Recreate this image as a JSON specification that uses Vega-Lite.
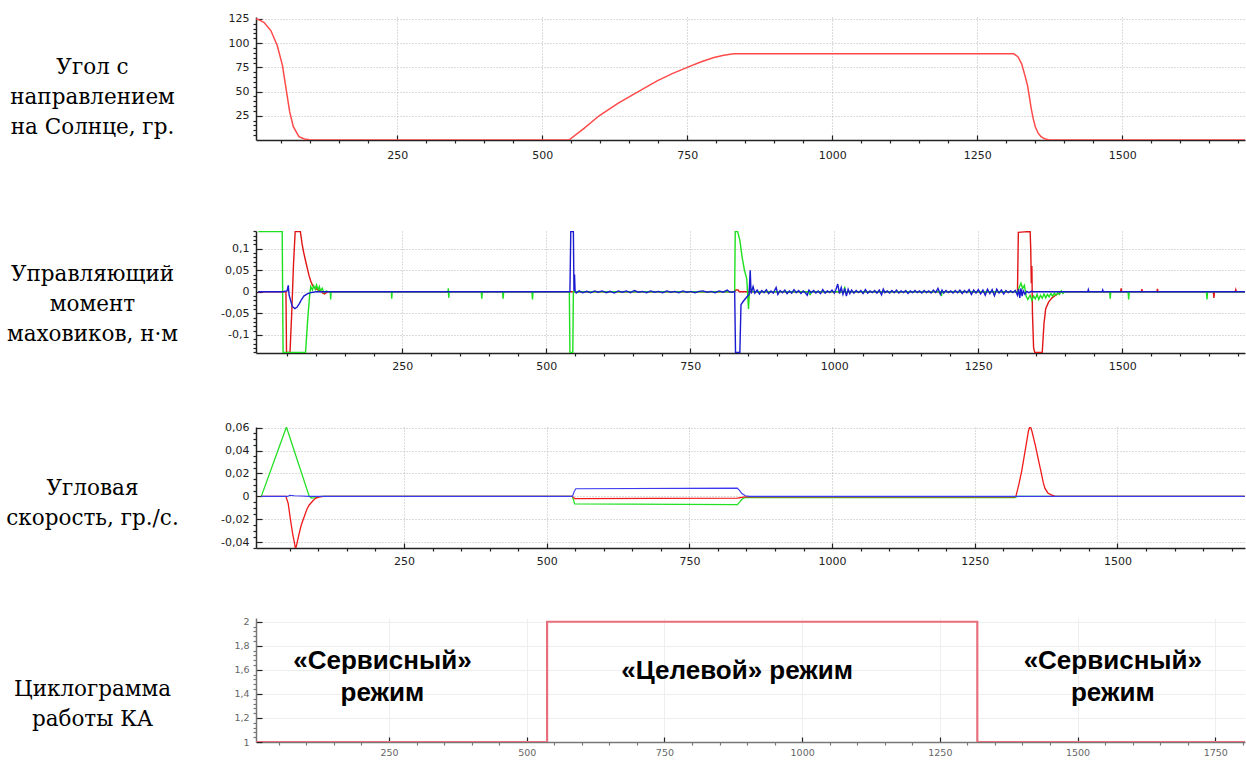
{
  "$schema": "https://vega.github.io/schema/vega-lite/v6.json",
  "background": "white",
  "padding": {"left": 5, "top": 12, "right": 0, "bottom": 0},
  "spacing": 50,
  "config": {
    "view": {"stroke": null},
    "axis": {
      "labelFont": "DejaVu Sans", "labelFontSize": 11, "labelColor": "#222222",
      "domainColor": "#222222", "domainWidth": 1.5, "tickColor": "#222222", "tickWidth": 1.2,
      "gridColor": "#b8b8b8", "gridDash": [1, 2], "gridWidth": 1,
      "titleFont": "DejaVu Serif", "titleFontSize": 21.5, "titleFontWeight": "normal", "titleColor": "#000000",
      "labelFlush": false, "labelOverlap": false
    },
    "axisX": {"tickSize": -5, "labelPadding": 12, "format": "d"},
    "axisY": {"tickSize": -6, "labelPadding": 13, "titleAngle": 0, "titleAlign": "center", "titleBaseline": "middle", "titleX": -164, "titleLineHeight": 30}
  },
  "datasets": {
    "angle": [
      {"t":0,"v":125.5},{"t":10,"v":124.5},{"t":20,"v":121.6},{"t":32,"v":113},{"t":43,"v":97.5},{"t":52,"v":77},{"t":59,"v":50},{"t":64.5,"v":29},{"t":70.7,"v":13.7},{"t":80.5,"v":3.4},{"t":90,"v":1},{"t":98,"v":0.3},{"t":110,"v":0},{"t":546,"v":0},{"t":572,"v":12},{"t":598,"v":25},{"t":631,"v":38},{"t":664,"v":49.5},{"t":698,"v":61},{"t":724,"v":68.5},{"t":750,"v":75},{"t":773,"v":80.5},{"t":796,"v":85.2},{"t":813,"v":87.5},{"t":830,"v":89},{"t":1313,"v":89},{"t":1320,"v":86},{"t":1326.5,"v":78.7},{"t":1332,"v":67},{"t":1336.6,"v":56.4},{"t":1340,"v":44},{"t":1343,"v":32.5},{"t":1346.5,"v":22},{"t":1350,"v":13.7},{"t":1355,"v":7},{"t":1360,"v":3.4},{"t":1366,"v":1.2},{"t":1373,"v":0.3},{"t":1380,"v":0},{"t":1717,"v":0}
    ],
    "torque": [
      {"s":"r","t":0,"v":0},{"s":"r","t":48,"v":0},{"s":"r","t":49,"v":-0.141},{"s":"r","t":55,"v":-0.141},{"s":"r","t":58,"v":-0.05},{"s":"r","t":61,"v":0.06},{"s":"r","t":64,"v":0.14},{"s":"r","t":73,"v":0.14},{"s":"r","t":76,"v":0.111},{"s":"r","t":79,"v":0.09},{"s":"r","t":82,"v":0.072},{"s":"r","t":85,"v":0.055},{"s":"r","t":88,"v":0.038},{"s":"r","t":91,"v":0.025},{"s":"r","t":94,"v":0.015},{"s":"r","t":99,"v":0.008},{"s":"r","t":104,"v":0.004},{"s":"r","t":108,"v":0.003},{"s":"r","t":112,"v":-0.003},{"s":"r","t":115,"v":-0.005},{"s":"r","t":118,"v":-0.002},{"s":"r","t":121,"v":0},{"s":"r","t":827,"v":0},{"s":"r","t":829,"v":0.004},{"s":"r","t":833,"v":0.004},{"s":"r","t":835,"v":0},{"s":"r","t":1318,"v":0},{"s":"r","t":1319.5,"v":0.138},{"s":"r","t":1330,"v":0.139},{"s":"r","t":1340,"v":0.14},{"s":"r","t":1341,"v":0.1},{"s":"r","t":1342,"v":0.02},{"s":"r","t":1343,"v":0.06},{"s":"r","t":1344,"v":-0.05},{"s":"r","t":1346,"v":-0.13},{"s":"r","t":1348,"v":-0.141},{"s":"r","t":1361,"v":-0.141},{"s":"r","t":1364,"v":-0.074},{"s":"r","t":1367,"v":-0.039},{"s":"r","t":1372,"v":-0.024},{"s":"r","t":1378,"v":-0.014},{"s":"r","t":1384,"v":-0.008},{"s":"r","t":1390,"v":-0.003},{"s":"r","t":1395,"v":0},{"s":"r","t":1497,"v":0},{"s":"r","t":1498,"v":0.008},{"s":"r","t":1499,"v":0},{"s":"r","t":1533,"v":0},{"s":"r","t":1534,"v":0.006},{"s":"r","t":1535,"v":0},{"s":"r","t":1560,"v":0},{"s":"r","t":1561,"v":0.007},{"s":"r","t":1562,"v":0},{"s":"r","t":1658,"v":0},{"s":"r","t":1659,"v":-0.014},{"s":"r","t":1660,"v":0},{"s":"r","t":1696,"v":0},{"s":"r","t":1697,"v":0.005},{"s":"r","t":1698,"v":0},{"s":"r","t":1713,"v":0},
      {"s":"g","t":0,"v":0.14},{"s":"g","t":41.5,"v":0.14},{"s":"g","t":43,"v":-0.141},{"s":"g","t":82,"v":-0.141},{"s":"g","t":86,"v":-0.06},{"s":"g","t":89,"v":-0.01},{"s":"g","t":91,"v":0.012},{"s":"g","t":94,"v":0.004},{"s":"g","t":96,"v":0.014},{"s":"g","t":99,"v":0.006},{"s":"g","t":101,"v":0.016},{"s":"g","t":104,"v":0.004},{"s":"g","t":106,"v":0.012},{"s":"g","t":108,"v":0.002},{"s":"g","t":111,"v":0.008},{"s":"g","t":114,"v":-0.002},{"s":"g","t":118,"v":0.002},{"s":"g","t":122,"v":0},{"s":"g","t":125,"v":0},{"s":"g","t":125.6,"v":-0.018},{"s":"g","t":126.5,"v":0},{"s":"g","t":231,"v":0},{"s":"g","t":231.6,"v":-0.016},{"s":"g","t":232.5,"v":0},{"s":"g","t":329,"v":0},{"s":"g","t":330,"v":0.008},{"s":"g","t":330.5,"v":-0.014},{"s":"g","t":331.5,"v":0},{"s":"g","t":387,"v":0},{"s":"g","t":388,"v":-0.016},{"s":"g","t":389,"v":0},{"s":"g","t":424,"v":0},{"s":"g","t":425,"v":-0.016},{"s":"g","t":426,"v":0},{"s":"g","t":475,"v":0},{"s":"g","t":476,"v":-0.018},{"s":"g","t":477,"v":0},{"s":"g","t":540,"v":0},{"s":"g","t":541,"v":-0.141},{"s":"g","t":546,"v":-0.141},{"s":"g","t":547,"v":0},{"s":"g","t":827,"v":0},{"s":"g","t":828,"v":0.14},{"s":"g","t":832,"v":0.14},{"s":"g","t":836,"v":0.12},{"s":"g","t":840,"v":0.08},{"s":"g","t":844,"v":0.05},{"s":"g","t":848,"v":0.03},{"s":"g","t":851,"v":-0.04},{"s":"g","t":853,"v":0.01},{"s":"g","t":856,"v":0.002},{"s":"g","t":860,"v":0},{"s":"g","t":957,"v":0},{"s":"g","t":958,"v":-0.008},{"s":"g","t":959,"v":0},{"s":"g","t":1017,"v":0},{"s":"g","t":1018,"v":0.012},{"s":"g","t":1019,"v":0},{"s":"g","t":1185,"v":0},{"s":"g","t":1186,"v":-0.01},{"s":"g","t":1187,"v":0},{"s":"g","t":1318,"v":0},{"s":"g","t":1321,"v":0.01},{"s":"g","t":1324,"v":0.02},{"s":"g","t":1327,"v":0.008},{"s":"g","t":1330,"v":0.015},{"s":"g","t":1333,"v":-0.01},{"s":"g","t":1336,"v":-0.018},{"s":"g","t":1340,"v":-0.008},{"s":"g","t":1343,"v":-0.02},{"s":"g","t":1346,"v":-0.01},{"s":"g","t":1349,"v":-0.016},{"s":"g","t":1352,"v":-0.006},{"s":"g","t":1355,"v":-0.018},{"s":"g","t":1358,"v":-0.008},{"s":"g","t":1361,"v":-0.015},{"s":"g","t":1364,"v":-0.005},{"s":"g","t":1367,"v":-0.014},{"s":"g","t":1370,"v":-0.006},{"s":"g","t":1373,"v":-0.012},{"s":"g","t":1376,"v":-0.004},{"s":"g","t":1379,"v":-0.01},{"s":"g","t":1382,"v":-0.003},{"s":"g","t":1385,"v":-0.008},{"s":"g","t":1388,"v":-0.002},{"s":"g","t":1391,"v":-0.006},{"s":"g","t":1394,"v":0.002},{"s":"g","t":1397,"v":-0.004},{"s":"g","t":1400,"v":0},{"s":"g","t":1478,"v":0},{"s":"g","t":1479,"v":-0.016},{"s":"g","t":1480,"v":0},{"s":"g","t":1510,"v":0},{"s":"g","t":1511,"v":-0.018},{"s":"g","t":1512,"v":0},{"s":"g","t":1646,"v":0},{"s":"g","t":1647,"v":-0.018},{"s":"g","t":1648,"v":0},{"s":"g","t":1713,"v":0},
      {"s":"b","t":0,"v":0},{"s":"b","t":42,"v":0},{"s":"b","t":50,"v":0.002},{"s":"b","t":52,"v":0.015},{"s":"b","t":53.5,"v":-0.008},{"s":"b","t":56,"v":-0.02},{"s":"b","t":59,"v":-0.034},{"s":"b","t":63.5,"v":-0.039},{"s":"b","t":67,"v":-0.036},{"s":"b","t":71,"v":-0.028},{"s":"b","t":75,"v":-0.018},{"s":"b","t":79,"v":-0.01},{"s":"b","t":85,"v":-0.005},{"s":"b","t":91,"v":-0.002},{"s":"b","t":100,"v":0},{"s":"b","t":541,"v":0},{"s":"b","t":542.5,"v":0.14},{"s":"b","t":547,"v":0.14},{"s":"b","t":548,"v":0.002},{"s":"b","t":549,"v":0.04},{"s":"b","t":550,"v":0.001},{"s":"b","t":552,"v":-0.003},{"s":"b","t":557,"v":0.002},{"s":"b","t":563,"v":-0.002},{"s":"b","t":570,"v":0.001},{"s":"b","t":577,"v":-0.002},{"s":"b","t":584,"v":0.002},{"s":"b","t":590,"v":-0.001},{"s":"b","t":597,"v":0.002},{"s":"b","t":604,"v":-0.002},{"s":"b","t":611,"v":0.001},{"s":"b","t":618,"v":-0.003},{"s":"b","t":625,"v":0.002},{"s":"b","t":632,"v":-0.001},{"s":"b","t":639,"v":0.002},{"s":"b","t":646,"v":-0.002},{"s":"b","t":653,"v":0.003},{"s":"b","t":660,"v":-0.001},{"s":"b","t":667,"v":0.001},{"s":"b","t":674,"v":-0.002},{"s":"b","t":681,"v":0.002},{"s":"b","t":688,"v":-0.001},{"s":"b","t":695,"v":0.001},{"s":"b","t":702,"v":-0.002},{"s":"b","t":709,"v":0.002},{"s":"b","t":716,"v":-0.001},{"s":"b","t":723,"v":0.001},{"s":"b","t":730,"v":-0.002},{"s":"b","t":737,"v":0.002},{"s":"b","t":744,"v":-0.001},{"s":"b","t":751,"v":0.001},{"s":"b","t":758,"v":-0.002},{"s":"b","t":765,"v":0.001},{"s":"b","t":772,"v":0.002},{"s":"b","t":779,"v":-0.001},{"s":"b","t":786,"v":0.001},{"s":"b","t":793,"v":-0.002},{"s":"b","t":800,"v":0.002},{"s":"b","t":807,"v":-0.001},{"s":"b","t":814,"v":0.004},{"s":"b","t":818,"v":0},{"s":"b","t":822,"v":-0.001},{"s":"b","t":827,"v":0.001},{"s":"b","t":828.5,"v":-0.141},{"s":"b","t":836,"v":-0.141},{"s":"b","t":838,"v":-0.03},{"s":"b","t":842,"v":-0.022},{"s":"b","t":848,"v":-0.012},{"s":"b","t":852,"v":-0.006},{"s":"b","t":854,"v":0.05},{"s":"b","t":855.5,"v":-0.004},{"s":"b","t":859,"v":0.012},{"s":"b","t":862,"v":-0.003},{"s":"b","t":866,"v":0.004},{"s":"b","t":870,"v":-0.005},{"s":"b","t":874,"v":0.003},{"s":"b","t":878,"v":-0.002},{"s":"b","t":882,"v":0.005},{"s":"b","t":886,"v":-0.004},{"s":"b","t":890,"v":0.002},{"s":"b","t":894,"v":-0.003},{"s":"b","t":899,"v":0.01},{"s":"b","t":902,"v":-0.006},{"s":"b","t":906,"v":0.003},{"s":"b","t":910,"v":-0.002},{"s":"b","t":914,"v":0.004},{"s":"b","t":918,"v":-0.004},{"s":"b","t":922,"v":0.002},{"s":"b","t":926,"v":-0.003},{"s":"b","t":930,"v":0.005},{"s":"b","t":934,"v":-0.002},{"s":"b","t":938,"v":0.003},{"s":"b","t":942,"v":-0.004},{"s":"b","t":946,"v":0.002},{"s":"b","t":950,"v":-0.003},{"s":"b","t":953,"v":-0.008},{"s":"b","t":956,"v":0.004},{"s":"b","t":960,"v":-0.002},{"s":"b","t":964,"v":0.003},{"s":"b","t":968,"v":-0.003},{"s":"b","t":972,"v":0.002},{"s":"b","t":976,"v":-0.004},{"s":"b","t":980,"v":0.005},{"s":"b","t":984,"v":-0.003},{"s":"b","t":988,"v":0.002},{"s":"b","t":992,"v":-0.002},{"s":"b","t":996,"v":0.004},{"s":"b","t":1000,"v":-0.003},{"s":"b","t":1003,"v":0.006},{"s":"b","t":1006,"v":0.018},{"s":"b","t":1009,"v":-0.004},{"s":"b","t":1012,"v":0.01},{"s":"b","t":1015,"v":-0.006},{"s":"b","t":1018,"v":0.008},{"s":"b","t":1021,"v":-0.01},{"s":"b","t":1024,"v":0.006},{"s":"b","t":1027,"v":-0.004},{"s":"b","t":1030,"v":0.004},{"s":"b","t":1034,"v":-0.003},{"s":"b","t":1038,"v":0.003},{"s":"b","t":1042,"v":-0.002},{"s":"b","t":1046,"v":0.003},{"s":"b","t":1050,"v":-0.004},{"s":"b","t":1054,"v":0.005},{"s":"b","t":1058,"v":-0.003},{"s":"b","t":1062,"v":0.002},{"s":"b","t":1066,"v":-0.002},{"s":"b","t":1070,"v":0.003},{"s":"b","t":1074,"v":-0.003},{"s":"b","t":1078,"v":0.004},{"s":"b","t":1082,"v":-0.007},{"s":"b","t":1085,"v":0.006},{"s":"b","t":1088,"v":-0.002},{"s":"b","t":1092,"v":0.002},{"s":"b","t":1096,"v":-0.003},{"s":"b","t":1100,"v":0.003},{"s":"b","t":1104,"v":-0.002},{"s":"b","t":1108,"v":0.004},{"s":"b","t":1112,"v":-0.003},{"s":"b","t":1116,"v":0.002},{"s":"b","t":1120,"v":-0.002},{"s":"b","t":1124,"v":0.003},{"s":"b","t":1128,"v":-0.004},{"s":"b","t":1132,"v":0.002},{"s":"b","t":1136,"v":-0.002},{"s":"b","t":1140,"v":0.003},{"s":"b","t":1144,"v":-0.002},{"s":"b","t":1148,"v":0.002},{"s":"b","t":1152,"v":-0.003},{"s":"b","t":1156,"v":0.003},{"s":"b","t":1160,"v":-0.002},{"s":"b","t":1164,"v":0.002},{"s":"b","t":1168,"v":-0.003},{"s":"b","t":1172,"v":0.004},{"s":"b","t":1176,"v":-0.002},{"s":"b","t":1180,"v":0.008},{"s":"b","t":1184,"v":-0.006},{"s":"b","t":1187,"v":0.004},{"s":"b","t":1190,"v":-0.003},{"s":"b","t":1194,"v":0.003},{"s":"b","t":1198,"v":-0.002},{"s":"b","t":1202,"v":0.002},{"s":"b","t":1206,"v":-0.003},{"s":"b","t":1210,"v":0.003},{"s":"b","t":1214,"v":-0.002},{"s":"b","t":1218,"v":0.004},{"s":"b","t":1222,"v":-0.004},{"s":"b","t":1226,"v":0.003},{"s":"b","t":1230,"v":-0.002},{"s":"b","t":1234,"v":0.005},{"s":"b","t":1238,"v":-0.006},{"s":"b","t":1242,"v":0.004},{"s":"b","t":1246,"v":-0.003},{"s":"b","t":1250,"v":0.005},{"s":"b","t":1254,"v":-0.005},{"s":"b","t":1258,"v":0.004},{"s":"b","t":1262,"v":-0.008},{"s":"b","t":1266,"v":0.006},{"s":"b","t":1270,"v":-0.004},{"s":"b","t":1274,"v":0.005},{"s":"b","t":1278,"v":-0.009},{"s":"b","t":1282,"v":0.006},{"s":"b","t":1286,"v":-0.003},{"s":"b","t":1290,"v":0.004},{"s":"b","t":1294,"v":-0.005},{"s":"b","t":1298,"v":0.003},{"s":"b","t":1302,"v":-0.002},{"s":"b","t":1306,"v":0.002},{"s":"b","t":1310,"v":-0.002},{"s":"b","t":1314,"v":0.003},{"s":"b","t":1318,"v":-0.008},{"s":"b","t":1320,"v":0.006},{"s":"b","t":1322,"v":-0.014},{"s":"b","t":1324,"v":0.008},{"s":"b","t":1326,"v":-0.01},{"s":"b","t":1328,"v":0.002},{"s":"b","t":1331,"v":-0.006},{"s":"b","t":1334,"v":0.001},{"s":"b","t":1338,"v":-0.002},{"s":"b","t":1342,"v":0.001},{"s":"b","t":1346,"v":0},{"s":"b","t":1440,"v":0},{"s":"b","t":1441,"v":0.005},{"s":"b","t":1442,"v":0},{"s":"b","t":1465,"v":0},{"s":"b","t":1466,"v":0.004},{"s":"b","t":1467,"v":0},{"s":"b","t":1713,"v":0}
    ],
    "rate": [
      {"s":"g","t":0,"v":0},{"s":"g","t":44,"v":0.0605},{"s":"g","t":84,"v":0},{"s":"g","t":88,"v":-0.0015},{"s":"g","t":95,"v":-0.001},{"s":"g","t":105,"v":0},{"s":"g","t":545,"v":0},{"s":"g","t":549,"v":-0.0066},{"s":"g","t":834,"v":-0.0072},{"s":"g","t":838,"v":-0.005},{"s":"g","t":842,"v":-0.0025},{"s":"g","t":848,"v":-0.001},{"s":"g","t":1320,"v":-0.001},{"s":"g","t":1325,"v":0},{"s":"g","t":1723,"v":0},
      {"s":"r","t":0,"v":0},{"s":"r","t":43,"v":0},{"s":"r","t":47,"v":-0.006},{"s":"r","t":51.5,"v":-0.0216},{"s":"r","t":55,"v":-0.033},{"s":"r","t":57.5,"v":-0.039},{"s":"r","t":60,"v":-0.046},{"s":"r","t":62,"v":-0.042},{"s":"r","t":66,"v":-0.033},{"s":"r","t":70,"v":-0.025},{"s":"r","t":75,"v":-0.018},{"s":"r","t":80,"v":-0.011},{"s":"r","t":84,"v":-0.0075},{"s":"r","t":90,"v":-0.004},{"s":"r","t":95,"v":-0.0017},{"s":"r","t":102,"v":-0.0005},{"s":"r","t":110,"v":0},{"s":"r","t":545,"v":0},{"s":"r","t":549,"v":-0.002},{"s":"r","t":834,"v":-0.0016},{"s":"r","t":842,"v":-0.0008},{"s":"r","t":848,"v":-0.0005},{"s":"r","t":1320,"v":-0.0005},{"s":"r","t":1322,"v":0},{"s":"r","t":1327,"v":0.01},{"s":"r","t":1332,"v":0.0216},{"s":"r","t":1339,"v":0.042},{"s":"r","t":1344,"v":0.057},{"s":"r","t":1347,"v":0.0615},{"s":"r","t":1350,"v":0.057},{"s":"r","t":1356,"v":0.0447},{"s":"r","t":1361,"v":0.033},{"s":"r","t":1366,"v":0.0216},{"s":"r","t":1370,"v":0.012},{"s":"r","t":1373,"v":0.007},{"s":"r","t":1378,"v":0.003},{"s":"r","t":1383,"v":0.0015},{"s":"r","t":1390,"v":0.0003},{"s":"r","t":1400,"v":0},{"s":"r","t":1723,"v":0},
      {"s":"b","t":0,"v":0},{"s":"b","t":46,"v":0},{"s":"b","t":50,"v":0.001},{"s":"b","t":58,"v":0.0005},{"s":"b","t":70,"v":0.0003},{"s":"b","t":84,"v":0},{"s":"b","t":545,"v":0},{"s":"b","t":548,"v":0.004},{"s":"b","t":551,"v":0.0067},{"s":"b","t":834,"v":0.0072},{"s":"b","t":838,"v":0.005},{"s":"b","t":842,"v":0.0025},{"s":"b","t":848,"v":0.0005},{"s":"b","t":855,"v":0},{"s":"b","t":1723,"v":0}
    ],
    "mode": [
      {"t":0,"v":1},{"t":537,"v":2},{"t":1318,"v":1},{"t":1804,"v":1}
    ],
    "notes": [
      {"t":238,"v":1.673,"label":"«Сервисный»"},
      {"t":238,"v":1.405,"label":"режим"},
      {"t":882,"v":1.59,"label":"«Целевой» режим"},
      {"t":1564,"v":1.673,"label":"«Сервисный»"},
      {"t":1564,"v":1.405,"label":"режим"}
    ]
  },
  "vconcat": [
    {
      "width": 989, "height": 123,
      "data": {"name": "angle"},
      "layer": [
        {
          "mark": {"type": "line", "color": "#ff4a4a", "strokeWidth": 1.5, "clip": true},
          "encoding": {
            "x": {"field": "t", "type": "quantitative", "scale": {"domain": [6.4, 1711.6], "nice": false, "zero": false},
                  "axis": {"values": [250, 500, 750, 1000, 1250, 1500], "labelPadding": 14, "title": " ", "titleFontSize": 10, "titlePadding": 9.5}},
            "y": {"field": "v", "type": "quantitative", "scale": {"domain": [0, 127], "nice": false},
                  "axis": {"values": [25, 50, 75, 100, 125], "format": "d", "title": ["Угол с", "направлением", "на Солнце, гр."], "titleY": 50}}
          }
        },
        {
          "mark": {"type": "line", "opacity": 0},
          "encoding": {
            "x": {"field": "t", "type": "quantitative", "scale": {"domain": [6.4, 1711.6], "nice": false, "zero": false},
                  "axis": {"orient": "bottom", "values": [50,100,150,200,300,350,400,450,550,600,650,700,800,850,900,950,1050,1100,1150,1200,1300,1350,1400,1450,1550,1600,1650,1700], "labels": false, "domain": false, "grid": false, "tickSize": 3, "title": null}},
            "y": {"field": "v", "type": "quantitative", "scale": {"domain": [0, 127], "nice": false},
                  "axis": {"orient": "left", "values": [5,10,15,20,30,35,40,45,55,60,65,70,80,85,90,95,105,110,115,120], "labels": false, "domain": false, "grid": false, "tickSize": 3, "title": null}}
          }
        }
      ],
      "resolve": {"axis": {"x": "independent", "y": "independent"}}
    },
    {
      "width": 989, "height": 122,
      "data": {"name": "torque"},
      "layer": [
        {
          "encoding": {
            "x": {"field": "t", "type": "quantitative", "scale": {"domain": [-4, 1713], "nice": false, "zero": false},
                  "axis": {"values": [250, 500, 750, 1000, 1250, 1500], "title": null}},
            "y": {"field": "v", "type": "quantitative", "scale": {"domain": [-0.142, 0.141], "nice": false},
                  "axis": {"values": [-0.1, -0.05, 0, 0.05, 0.1], "labelExpr": "replace(toString(datum.value), '.', ',')", "title": ["Управляющий", "момент", "маховиков, н·м"], "titleY": 43}}
          },
          "layer": [
            {"transform": [{"filter": "datum.s == 'r'"}], "mark": {"type": "line", "color": "#e01515", "strokeWidth": 1.4, "clip": true}},
            {"transform": [{"filter": "datum.s == 'g'"}], "mark": {"type": "line", "color": "#1ee01e", "strokeWidth": 1.4, "clip": true}},
            {"transform": [{"filter": "datum.s == 'b'"}], "mark": {"type": "line", "color": "#1a1ad0", "strokeWidth": 1.4, "clip": true}}
          ]
        },
        {
          "mark": {"type": "line", "opacity": 0},
          "encoding": {
            "x": {"field": "t", "type": "quantitative", "scale": {"domain": [-4, 1713], "nice": false, "zero": false},
                  "axis": {"orient": "bottom", "values": [50,100,150,200,300,350,400,450,550,600,650,700,800,850,900,950,1050,1100,1150,1200,1300,1350,1400,1450,1550,1600,1650,1700], "labels": false, "domain": false, "grid": false, "tickSize": 3, "title": null}},
            "y": {"field": "v", "type": "quantitative", "scale": {"domain": [-0.142, 0.141], "nice": false},
                  "axis": {"orient": "left", "values": [-0.14,-0.13,-0.12,-0.11,-0.09,-0.08,-0.07,-0.06,-0.04,-0.03,-0.02,-0.01,0.01,0.02,0.03,0.04,0.06,0.07,0.08,0.09,0.11,0.12,0.13,0.14], "labels": false, "domain": false, "grid": false, "tickSize": 3, "title": null}}
          }
        }
      ],
      "resolve": {"axis": {"x": "independent", "y": "independent"}}
    },
    {
      "width": 989, "height": 121,
      "data": {"name": "rate"},
      "layer": [
        {
          "encoding": {
            "x": {"field": "t", "type": "quantitative", "scale": {"domain": [-9.3, 1723.4], "nice": false, "zero": false},
                  "axis": {"values": [250, 500, 750, 1000, 1250, 1500], "title": null}},
            "y": {"field": "v", "type": "quantitative", "scale": {"domain": [-0.045, 0.0605], "nice": false},
                  "axis": {"values": [-0.04, -0.02, 0, 0.02, 0.04, 0.06], "labelExpr": "replace(toString(datum.value), '.', ',')", "title": ["Угловая", "скорость, гр./с."], "titleY": 61}}
          },
          "layer": [
            {"transform": [{"filter": "datum.s == 'g'"}], "mark": {"type": "line", "color": "#22e022", "strokeWidth": 1.3, "clip": true}},
            {"transform": [{"filter": "datum.s == 'r'"}], "mark": {"type": "line", "color": "#f01a1a", "strokeWidth": 1.3, "clip": true}},
            {"transform": [{"filter": "datum.s == 'b'"}], "mark": {"type": "line", "color": "#3a3af0", "strokeWidth": 1.1, "clip": true}}
          ]
        },
        {
          "mark": {"type": "line", "opacity": 0},
          "encoding": {
            "x": {"field": "t", "type": "quantitative", "scale": {"domain": [-9.3, 1723.4], "nice": false, "zero": false},
                  "axis": {"orient": "bottom", "values": [50,100,150,200,300,350,400,450,550,600,650,700,800,850,900,950,1050,1100,1150,1200,1300,1350,1400,1450,1550,1600,1650,1700], "labels": false, "domain": false, "grid": false, "tickSize": 3, "title": null}},
            "y": {"field": "v", "type": "quantitative", "scale": {"domain": [-0.045, 0.0605], "nice": false},
                  "axis": {"orient": "left", "values": [-0.045,-0.035,-0.03,-0.025,-0.015,-0.01,-0.005,0.005,0.01,0.015,0.025,0.03,0.035,0.045,0.05,0.055], "labels": false, "domain": false, "grid": false, "tickSize": 3, "title": null}}
          }
        }
      ],
      "resolve": {"axis": {"x": "independent", "y": "independent"}}
    },
    {
      "width": 989, "height": 124,
      "layer": [
        {
          "encoding": {
            "x": {"field": "t", "type": "quantitative", "scale": {"domain": [8.5, 1804], "nice": false, "zero": false},
                  "axis": {"values": [250, 500, 750, 1000, 1250, 1500, 1750], "title": null, "labelPadding": 10, "labelFontSize": 9.5, "labelColor": "#666666", "gridDash": [], "gridColor": "#eeeeee", "domainColor": "#777777"}},
            "y": {"field": "v", "type": "quantitative", "scale": {"domain": [1, 2.031], "nice": false, "zero": false},
                  "axis": {"values": [1, 1.2, 1.4, 1.6, 1.8, 2], "labelExpr": "replace(toString(datum.value), '.', ',')", "labelFontSize": 9.5, "labelColor": "#666666", "gridDash": [], "gridColor": "#eeeeee", "domainColor": "#777777", "title": ["Циклограмма", "работы КА"], "titleY": 71}}
          },
          "layer": [
            {"data": {"name": "mode"}, "mark": {"type": "line", "interpolate": "step-after", "color": "#e8707c", "strokeWidth": 2.2, "clip": true}},
            {"data": {"name": "notes"}, "mark": {"type": "text", "font": "Liberation Sans", "fontWeight": "bold", "fontSize": 26, "align": "center", "baseline": "middle", "color": "#000000"},
             "encoding": {"text": {"field": "label"}}}
          ]
        },
        {
          "data": {"name": "mode"},
          "mark": {"type": "line", "opacity": 0},
          "encoding": {
            "x": {"field": "t", "type": "quantitative", "scale": {"domain": [8.5, 1804], "nice": false, "zero": false},
                  "axis": {"orient": "bottom", "values": [50,100,150,200,300,350,400,450,550,600,650,700,800,850,900,950,1050,1100,1150,1200,1300,1350,1400,1450,1550,1600,1650,1700,1800], "labels": false, "domain": false, "grid": false, "tickSize": 3, "tickColor": "#777777", "title": null}},
            "y": {"field": "v", "type": "quantitative", "scale": {"domain": [1, 2.031], "nice": false, "zero": false},
                  "axis": {"orient": "left", "values": [1.04,1.08,1.12,1.16,1.24,1.28,1.32,1.36,1.44,1.48,1.52,1.56,1.64,1.68,1.72,1.76,1.84,1.88,1.92,1.96], "labels": false, "domain": false, "grid": false, "tickSize": 3, "tickColor": "#777777", "title": null}}
          }
        }
      ],
      "resolve": {"axis": {"x": "independent", "y": "independent"}}
    }
  ]
}
